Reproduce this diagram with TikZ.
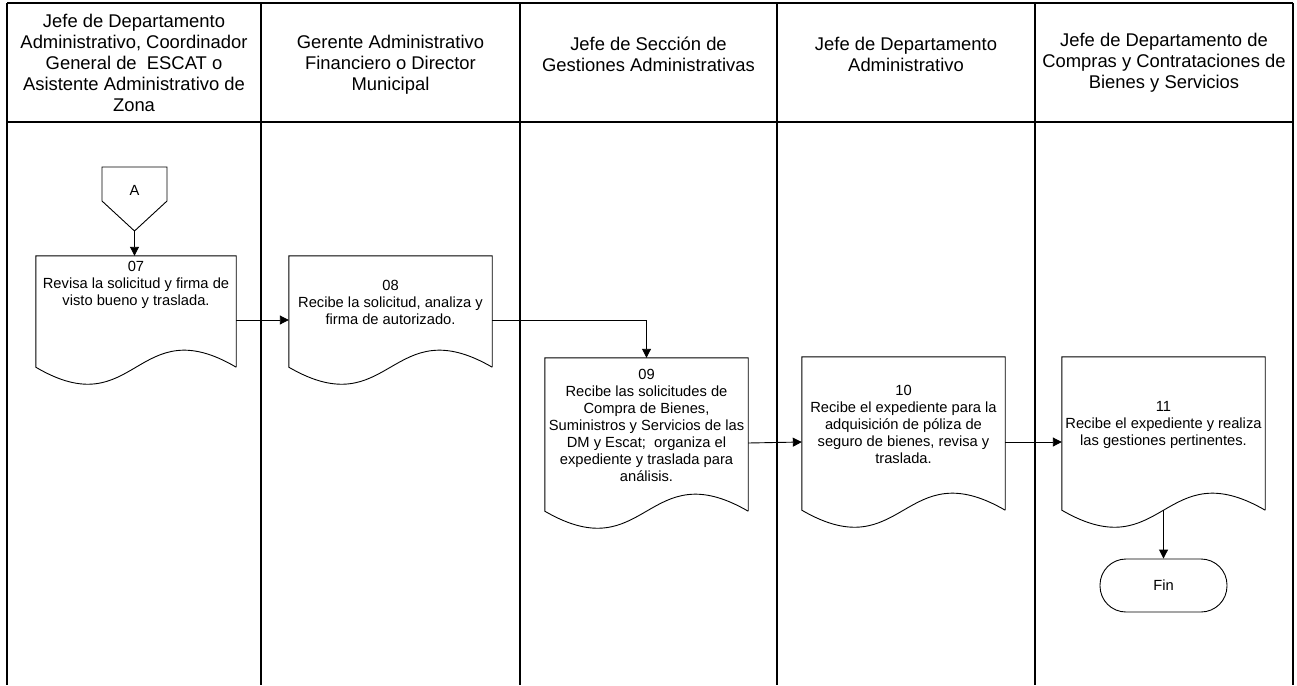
\documentclass[tikz,border=0pt]{standalone}
\usepackage{fontspec}
\setmainfont{Liberation Sans}
\usetikzlibrary{arrows.meta,calc}

\tikzset{
  lane/.style={line width=1.4pt},
  hdr/.style={align=center,font=\fontsize{18.4}{21}\selectfont},
  docbox/.style={minimum width=203pt,minimum height=170pt,inner sep=0pt},
  doctext/.style={align=center,font=\fontsize{14.7}{17}\selectfont},
  flow/.style={line width=0.9pt,-{Triangle[length=9pt,width=9pt]}},
  endbox/.style={draw,line width=0.9pt,rounded corners=26pt,minimum width=127pt,minimum height=53pt,font=\fontsize{14.7}{17}\selectfont}
}
\newcommand{\docoutline}[1]{%
  \draw[line width=0.9pt] ([yshift=17pt]#1.south east) -- (#1.north east) -- (#1.north west) -- ([yshift=17pt]#1.south west)
    .. controls ([yshift=-42pt]#1.south) and ([yshift=76pt]#1.south) .. ([yshift=17pt]#1.south east);}

\begin{document}
\begin{tikzpicture}[x=1pt,y=-1pt]
\useasboundingbox (0,0) rectangle (1297,685);

        \draw[lane] (7,3) -- (1293,3) (7,122) -- (1293,122);
        \foreach \x in {7,261,520,777,1035,1293}
            \draw[lane] (\x,3) -- (\x,685);

        \node[hdr] (h1) at (134,62.5) {Jefe de Departamento\\Administrativo, Coordinador\\General de\ \ ESCAT o\\Asistente Administrativo de\\Zona};
        \node[hdr] (h2) at (390.5,64.5) {Gerente Administrativo\\Financiero o Director\\Municipal};
        \node[hdr] (h3) at (648.5,54.5) {Jefe de Secci\'on de\\Gestiones Administrativas};
        \node[hdr] (h4) at (906,54.5) {Jefe de Departamento\\Administrativo};
        \node[hdr] (h5) at (1164,62.5) {Jefe de Departamento de\\Compras y Contrataciones de\\Bienes y Servicios};

        % conector A
        \draw[line width=0.9pt] (102,167) -- (167,167) -- (167,201) -- (134.5,231) -- (102,201) -- cycle;
        \node[doctext] (offA) at (134.5,190) {A};
        \coordinate (Atip) at (134.5,231);

        \node[docbox,minimum width=200pt,minimum height=128pt] (doc07) at (136,320) {};
        \node[docbox,minimum height=128pt] (doc08) at (390.5,320) {};
        \node[docbox] (doc09) at (646.5,443) {};
        \node[docbox] (doc10) at (903.5,442) {};
        \node[docbox] (doc11) at (1163.5,442) {};
        \docoutline{doc07}
        \docoutline{doc08}
        \docoutline{doc09}
        \docoutline{doc10}
        \docoutline{doc11}

        \node[doctext] (t07) at ([yshift=35pt]doc07.center) {07\\Revisa la solicitud y firma de\\visto bueno y traslada.};
        \node[doctext] (t08) at ([yshift=18pt]doc08.center) {08\\Recibe la solicitud, analiza y\\firma de autorizado.};
        \node[doctext] (t09) at ([yshift=18pt]doc09.center) {09\\Recibe las solicitudes de\\Compra de Bienes,\\Suministros y Servicios de las\\DM y Escat;\ \ organiza el\\expediente y traslada para\\an\'alisis.};
        \node[doctext] (t10) at ([yshift=17.5pt]doc10.center) {10\\Recibe el expediente para la\\adquisici\'on de p\'oliza de\\seguro de bienes, revisa y\\traslada.};
        \node[doctext] (t11) at ([yshift=17pt]doc11.center) {11\\Recibe el expediente y realiza\\las gestiones pertinentes.};

        \node[endbox] (fin) at (1163.5,585.5) {Fin};

        \draw[flow] (Atip) -- (Atip |- doc07.north);
        \draw[flow] (doc07.east) -- (doc08.west);
        \draw[flow] (doc08.east) -| (doc09.north);
        \draw[flow] (doc09.east) -- (doc10.west);
        \draw[flow] (doc10.east) -- (doc11.west);
        \draw[flow] ([yshift=17pt]doc11.south) -- (fin.north);
\end{tikzpicture}
\end{document}
